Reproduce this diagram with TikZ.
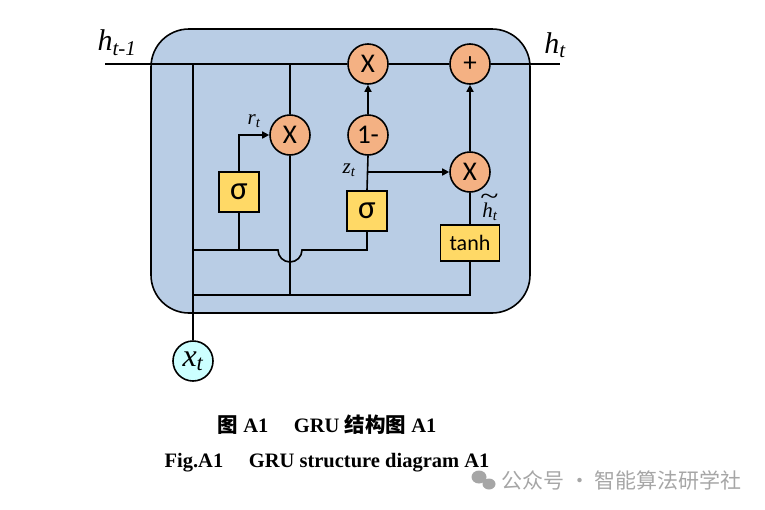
\documentclass[tikz,border=0pt]{standalone}
\usepackage{fontspec}
\usepackage{graphicx}
\setmainfont{Liberation Serif}
\newfontfamily\gatefont{Carlito}
\newfontfamily\cjk{Noto Sans CJK SC}
\usetikzlibrary{arrows.meta}
\definecolor{cellblue}{HTML}{B9CDE5}
\definecolor{gateorange}{HTML}{F4B183}
\definecolor{boxyellow}{HTML}{FFD966}
\definecolor{inputcyan}{HTML}{CCFFFF}
\definecolor{markgray}{HTML}{A6A6A6}
\tikzset{
  gate/.style={circle,draw,line width=1.6pt,fill=gateorange,minimum size=40pt,inner sep=0pt,font=\gatefont\fontsize{27}{27}\selectfont},
  actbox/.style={draw,line width=1.6pt,fill=boxyellow,minimum width=40pt,minimum height=40pt,inner sep=0pt,font=\gatefont\fontsize{33}{33}\selectfont},
  wire/.style={line width=1.6pt},
  flow/.style={wire,-{Triangle[length=7pt,width=7pt]}},
  lbl/.style={font=\itshape\fontsize{21}{21}\selectfont,inner sep=0pt}
}

\begin{document}
\begin{tikzpicture}[x=1pt,y=-1pt]
\useasboundingbox (0,0) rectangle (765,509);
% cell
\draw[fill=cellblue,line width=1.6pt,rounded corners=38pt] (151,29) rectangle (530,313);
% gates
\node[gate] (mulz) at (368,64){X};
\node[gate] (add) at (470,64){+};
\node[gate] (mulr) at (290,135){X};
\node[gate] (oneminus) at (368,135){1-};
\node[gate] (mulh) at (470,172){X};
\node[actbox] (sigr) at (239,192){σ};
\node[actbox] (sigz) at (367,211){σ};
\node[actbox,minimum width=59pt,minimum height=36pt,font=\gatefont\fontsize{22}{22}\selectfont] (tanhbox) at (470,243){tanh};
\node[circle,draw,line width=1.6pt,fill=inputcyan,minimum size=40pt,inner sep=0pt,font=\itshape\fontsize{32}{32}\selectfont] (xt) at (193,361){x\textsubscript{t}};
% junctions
\coordinate (hin) at (105,64);
\coordinate (hout) at (560,64);
\coordinate (jx) at (193,64);
\coordinate (jr) at (290,64);
\coordinate (zj) at (367,172);
\coordinate (mid) at (193,250);
\coordinate (low) at (193,295);
% hidden state path
\draw[wire] (hin) -- (mulz.west);
\draw[wire] (mulz.east) -- (add.west);
\draw[wire] (add.east) -- (hout);
\draw[wire] (jx) -- (xt.north);
\draw[wire] (jr) -- (mulr.north);
\draw[wire] (mulr.south) -- (290,295);
% reset gate
\draw[flow] (sigr.north) |- (mulr.west);
\draw[wire] (sigr.south) -- (239,250);
\draw[wire] (mid) -- (278,250) arc (180:0:12) -- (367,250) -- (sigz.south);
% update gate
\draw[wire] (sigz.north) -- (oneminus.south);
\draw[flow] (oneminus.north) -- (mulz.south);
\draw[flow] (zj) -- (mulh.west);
\draw[flow] (mulh.north) -- (add.south);
% candidate
\draw[wire] (tanhbox.north) -- (mulh.south);
\draw[wire] (low) -- (470,295) -- (tanhbox.south);
% labels
\node[lbl,font=\itshape\fontsize{30}{30}\selectfont] (hprev) at (117,43){h\textsubscript{t-1}};
\node[lbl,font=\itshape\fontsize{30}{30}\selectfont] (hnext) at (555,45){h\textsubscript{t}};
\node[lbl] (rlab) at (254,121){r\textsubscript{t}};
\node[lbl] (zlab) at (349,170){z\textsubscript{t}};
\node[lbl] (hlab) at (490,212){\raisebox{13pt}[0pt][0pt]{\makebox[0pt][l]{\kern-2pt\scalebox{1.6}[1.2]{\upshape\textasciitilde}}}h\textsubscript{t}};
% caption
\node[font=\bfseries\fontsize{20.5}{20.5}\selectfont] (cap1) at (327,425){{\cjk\bfseries 图} A1\quad\ GRU {\cjk\bfseries 结构图} A1};
\node[font=\bfseries\fontsize{20.5}{20.5}\selectfont] (cap2) at (327,463){Fig.A1\quad\ GRU structure diagram A1};
% watermark
\fill[markgray] (479,477) ellipse (7.5pt and 6.5pt);
\fill[markgray] (489,484) ellipse (6.5pt and 5.5pt);
\node[font=\cjk\fontsize{21}{21}\selectfont,text=markgray,anchor=west] (mark) at (498,480){公众号 · 智能算法研学社};
\end{tikzpicture}
\end{document}
